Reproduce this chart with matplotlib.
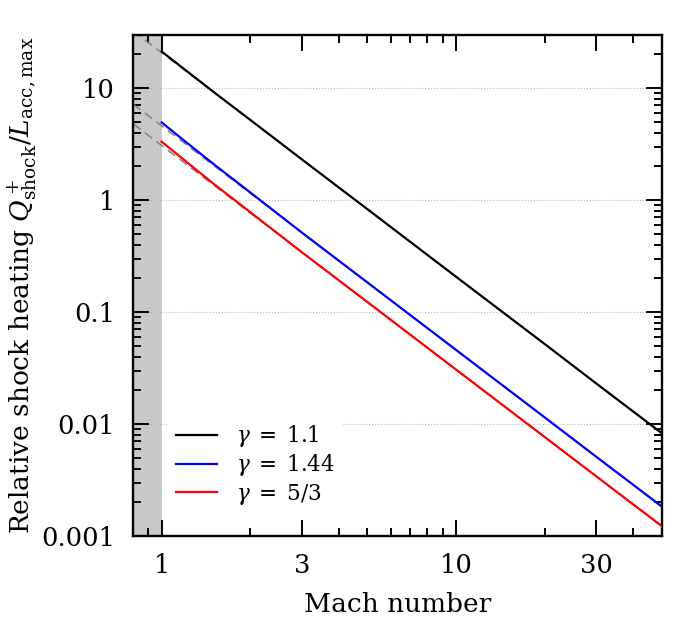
import numpy as np
import matplotlib
matplotlib.use("Agg")
import matplotlib.pyplot as plt
from matplotlib.ticker import FixedLocator, NullFormatter

plt.rcParams["font.family"] = ["DejaVu Serif"]
plt.rcParams["mathtext.fontset"] = "dejavuserif"

# ── Shock heating vs Mach number ──
mach = [1.0, 1.2, 1.5, 2.0, 3.0, 5.0, 10.0, 20.0, 30.0, 50.0]
q_g110 = [21.2, 14.6, 9.25, 5.2, 2.3, 0.83, 0.207, 0.052, 0.023, 0.0083]
q_g144 = [4.94, 3.35, 2.10, 1.17, 0.511, 0.184, 0.046, 0.0115, 0.0051, 0.00184]
q_g153 = [3.32, 2.25, 1.40, 0.78, 0.341, 0.123, 0.0307, 0.00768, 0.00341, 0.00123]

# ── High-Mach asymptotes (dashed), endpoints ─
mach_asym = [0.8, 50.0]
asym_g110 = [32.3, 0.0083]
asym_g144 = [7.19, 0.00184]
asym_g153 = [4.8, 0.00123]

labels = [r"$\gamma\;=\;1.1$", r"$\gamma\;=\;1.44$", r"$\gamma\;=\;5/3$"]
colors = ["black", "blue", "red"]

fig = plt.figure(figsize=(6.9, 6.3), dpi=100)
ax = fig.add_axes([0.193, 0.149, 0.766, 0.796])

ax.axvspan(0.8, 1.0, color="#c8c8c8", lw=0, zorder=0)

for q in (asym_g110, asym_g144, asym_g153):
    ax.plot(mach_asym, q, color="#808080", ls=(0, (6, 3.5)), lw=1.1, zorder=2)
for q, c, lab in zip((q_g110, q_g144, q_g153), colors, labels):
    ax.plot(mach, q, color=c, lw=1.6, label=lab, zorder=3)

ax.set_xscale("log")
ax.set_yscale("log")
ax.set_xlim(0.8, 50)
ax.set_ylim(0.001, 30)

ax.xaxis.set_major_locator(FixedLocator([1, 3, 10, 30]))
ax.set_xticklabels(["1", "3", "10", "30"])
ax.xaxis.set_minor_locator(FixedLocator([0.9, 2, 4, 5, 6, 7, 8, 9, 20, 40]))
ax.xaxis.set_minor_formatter(NullFormatter())

ax.yaxis.set_major_locator(FixedLocator([0.001, 0.01, 0.1, 1, 10]))
ax.set_yticklabels(["0.001", "0.01", "0.1", "1", "10"])
ymin = [m * 10.0**e for e in range(-3, 2) for m in range(2, 10)]
ax.yaxis.set_minor_locator(FixedLocator([v for v in ymin if v < 30]))
ax.yaxis.set_minor_formatter(NullFormatter())

ax.tick_params(which="both", direction="in", top=True, right=True, width=1.4)
ax.tick_params(which="major", length=11.5, labelsize=18.5)
ax.tick_params(axis="y", which="major", pad=13)
ax.tick_params(axis="x", which="major", pad=12)
ax.tick_params(which="minor", length=5.5)
for s in ax.spines.values():
    s.set_linewidth(1.7)

ax.grid(True, which="major", axis="y", color="#bbbbbb", ls=":", lw=0.8, zorder=1)

ax.set_xlabel("Mach number", fontsize=19, labelpad=10)
ax.set_ylabel(r"Relative shock heating $Q^+_{\rm shock}/L_{\rm acc,max}$",
              fontsize=19)
ax.yaxis.set_label_coords(-0.178, 0.5)

leg = ax.legend(loc="lower left", bbox_to_anchor=(0.045, 0.02), fontsize=15.5,
                frameon=True, framealpha=1, edgecolor="none", facecolor="white",
                handlelength=1.9, handletextpad=0.85, labelspacing=0.15,
                borderpad=0.4)
leg.get_frame().set_linewidth(0)
leg.set_zorder(4)

plt.savefig("out.png", dpi=100)
